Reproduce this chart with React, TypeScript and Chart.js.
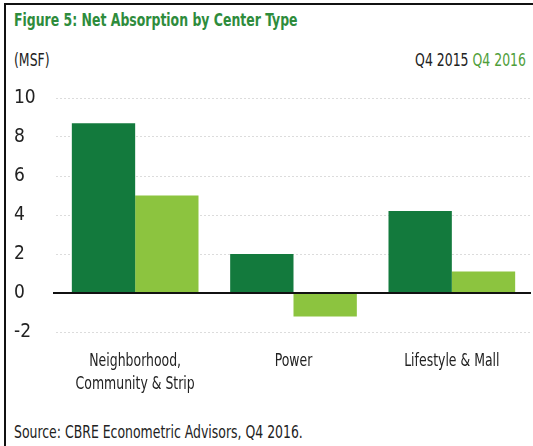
import React, { useEffect, useRef } from "react";
import { Chart, registerables } from "chart.js";

Chart.register(...registerables);

const categories: (string | string[])[] = [
  ["Neighborhood,", "Community & Strip"],
  "Power",
  "Lifestyle & Mall",
];
const seriesNames = ["Q4 2015", "Q4 2016"];
const q42015 = [8.7, 2.0, 4.2];
const q42016 = [5.0, -1.2, 1.1];
const yMin = -2;
const yMax = 10;
const yStep = 2;

const DARK = "#137a3d";
const LIGHT = "#8cc43f";
const FONT = "'DejaVu Sans Condensed', 'Liberation Sans Narrow', sans-serif";
const SQUEEZE = 0.77;

const zeroLine = {
  id: "zeroLine",
  afterDatasetsDraw(chart: any) {
    const y = chart.scales.y;
    const area = chart.chartArea;
    const py = y.getPixelForValue(0);
    const ctx = chart.ctx;
    ctx.save();
    ctx.strokeStyle = "#111";
    ctx.lineWidth = 2;
    ctx.beginPath();
    ctx.moveTo(area.left - 3, py);
    ctx.lineTo(area.right, py);
    ctx.stroke();
    ctx.restore();
  },
};

// Category labels drawn at the x scale's tick positions, horizontally condensed
const condensedXLabels = {
  id: "condensedXLabels",
  afterDraw(chart: any) {
    const x = chart.scales.x;
    const ctx = chart.ctx;
    const top = chart.chartArea.bottom + 29;
    ctx.save();
    ctx.font = `18px ${FONT}`;
    ctx.fillStyle = "#222";
    ctx.textAlign = "center";
    ctx.textBaseline = "middle";
    (chart.data.labels as any[]).forEach((lab, i) => {
      const lines = Array.isArray(lab) ? lab : [lab];
      const px = x.getPixelForTick(i);
      lines.forEach((line: string, j: number) => {
        ctx.save();
        ctx.translate(px, top + j * 23);
        ctx.scale(SQUEEZE, 1);
        ctx.fillText(line, 0, 0);
        ctx.restore();
      });
    });
    ctx.restore();
  },
};

export default function App() {
  const ref = useRef<HTMLCanvasElement>(null);
  useEffect(() => {
    if (!ref.current) return;
    const chart = new Chart(ref.current, {
      type: "bar",
      data: {
        labels: categories,
        datasets: [
          { label: seriesNames[0], data: q42015, backgroundColor: DARK },
          { label: seriesNames[1], data: q42016, backgroundColor: LIGHT },
        ],
      },
      options: {
        responsive: false,
        animation: false,
        layout: { padding: { left: 14, top: 13, right: 2, bottom: 0 } },
        datasets: { bar: { categoryPercentage: 0.8, barPercentage: 1 } },
        plugins: { legend: { display: false }, tooltip: { enabled: false } },
        scales: {
          x: {
            grid: { display: false, drawTicks: false },
            border: { display: false },
            ticks: { display: false },
            afterFit: (s: any) => {
              s.height = 73;
            },
          },
          y: {
            min: yMin,
            max: yMax,
            grid: { color: "#dcdcdc", lineWidth: 1, drawTicks: false },
            border: { display: false, dash: [2, 2] },
            ticks: {
              stepSize: yStep,
              color: "#222",
              crossAlign: "far",
              padding: 0,
              font: { family: FONT, size: 19 },
            },
            afterFit: (s: any) => {
              s.width = 42;
            },
          },
        },
      },
      plugins: [zeroLine, condensedXLabels],
    });
    return () => chart.destroy();
  }, []);

  const squeezed = (extra: React.CSSProperties): React.CSSProperties => ({
    position: "absolute",
    fontSize: 18,
    whiteSpace: "nowrap",
    transform: `scaleX(${SQUEEZE})`,
    ...extra,
  });

  return (
    <div
      style={{
        position: "absolute",
        left: 0,
        top: 0,
        width: 533,
        height: 446,
        background: "#fff",
        fontFamily: FONT,
        overflow: "hidden",
      }}
    >
      <div style={{ position: "absolute", left: 4, top: 3, width: 2, height: 443, background: "#111" }} />
      <div style={{ position: "absolute", left: 4, top: 3, width: 529, height: 2, background: "#111" }} />
      <div
        style={squeezed({
          left: 14,
          top: 9,
          fontWeight: "bold",
          color: "#2e8c3c",
          transformOrigin: "left center",
        })}
      >
        Figure 5: Net Absorption by Center Type
      </div>
      <div style={squeezed({ left: 14, top: 49, color: "#222", transformOrigin: "left center" })}>(MSF)</div>
      <div style={squeezed({ right: 7, top: 49, transformOrigin: "right center" })}>
        <span style={{ color: "#222" }}>{seriesNames[0]}</span>{" "}
        <span style={{ color: "#4f9e3a" }}>{seriesNames[1]}</span>
      </div>
      <canvas
        ref={ref}
        width={533}
        height={320}
        style={{ position: "absolute", left: 0, top: 85, width: 533, height: 320 }}
      />
      <div style={squeezed({ left: 14, top: 421, color: "#222", transformOrigin: "left center" })}>
        Source: CBRE Econometric Advisors, Q4 2016.
      </div>
    </div>
  );
}
